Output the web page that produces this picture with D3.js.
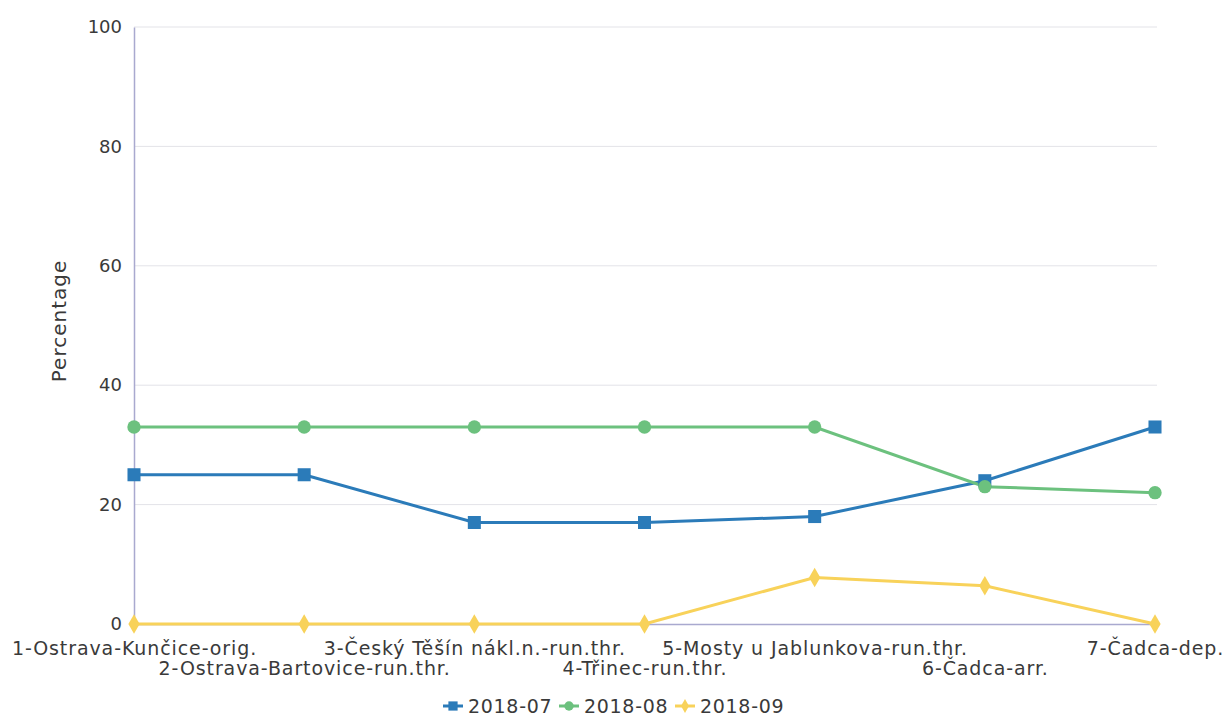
<!DOCTYPE html>
<html><head><meta charset="utf-8">
<script src="https://cdn.jsdelivr.net/npm/d3@7"></script>
<style>body{margin:0;background:#fff}svg{font-family:"DejaVu Sans",sans-serif}</style>
</head><body><svg id="c" width="1223" height="715"></svg>
<script>
const categories = ["1-Ostrava-Kunčice-orig.","2-Ostrava-Bartovice-run.thr.","3-Český Těšín nákl.n.-run.thr.","4-Třinec-run.thr.","5-Mosty u Jablunkova-run.thr.","6-Čadca-arr.","7-Čadca-dep."];
const seriesNames = ["2018-07","2018-08","2018-09"];
const s201807 = [25,25,17,17,18,24,33];
const s201808 = [33,33,33,33,33,23,22];
const s201809 = [0,0,0,0,7.8,6.4,0];
const yTicks = [0,20,40,60,80,100];
const colors = ["#2b7bb9","#6cc17e","#f8d25a"];
const symbols = [d3.symbolSquare, d3.symbolCircle, d3.symbolDiamond];
const symSizes = [170, 140, 110];
const series = [s201807,s201808,s201809];

const svg = d3.select("#c");
const L=134, R=1155, T=27, B=624;
const x = d3.scalePoint().domain(categories).range([L,R]);
const y = d3.scaleLinear().domain([0,100]).range([B,T]);

// grid
svg.append("g").selectAll("line").data(yTicks.filter(d=>d>0)).join("line")
 .attr("x1",L).attr("x2",R+2).attr("y1",d=>y(d)).attr("y2",d=>y(d))
 .attr("stroke","#e3e3e8").attr("stroke-width",1);

// y axis
const ya = svg.append("g").attr("transform",`translate(${L},0)`).call(d3.axisLeft(y).tickValues(yTicks).tickSize(0).tickPadding(12));
ya.select(".domain").attr("stroke","#a9a9cf").attr("stroke-width",1.5);
ya.selectAll("text").attr("font-size",18).attr("fill","#3a3a3a").attr("font-family","DejaVu Sans");

// x axis
const xa = svg.append("g").attr("transform",`translate(0,${B})`).call(d3.axisBottom(x).tickSize(0));
xa.select(".domain").attr("stroke","#a9a9cf").attr("stroke-width",1.5);
xa.selectAll("text").attr("font-size",19).attr("letter-spacing","0.9px").attr("fill","#3a3a3a").attr("font-family","DejaVu Sans")
 .attr("y",(d,i)=> i%2===0 ? 31 : 51).attr("dy",null);

// y title
svg.append("text").attr("transform",`translate(66,${321}) rotate(-90)`).attr("text-anchor","middle")
 .attr("font-size",20).attr("letter-spacing","1px").attr("fill","#3a3a3a").text("Percentage");

// lines
const line = d3.line().x((d,i)=>x(categories[i])).y(d=>y(d));
series.forEach((s,k)=>{
  svg.append("path").datum(s).attr("d",line).attr("fill","none").attr("stroke",colors[k]).attr("stroke-width",3);
});
series.forEach((s,k)=>{
  svg.append("g").selectAll("path").data(s).join("path")
   .attr("transform",(d,i)=>`translate(${x(categories[i])},${y(d)})`)
   .attr("d",d3.symbol().type(symbols[k]).size(symSizes[k])).attr("fill",colors[k]);
});

// legend
const lx=[443,559,675];
seriesNames.forEach((n,k)=>{
  const g = svg.append("g").attr("transform",`translate(${lx[k]},706)`);
  g.append("line").attr("x1",0).attr("x2",20).attr("stroke",colors[k]).attr("stroke-width",3);
  g.append("path").attr("transform","translate(10,0)").attr("d",d3.symbol().type(symbols[k]).size(symSizes[k]*0.5)).attr("fill",colors[k]);
  g.append("text").attr("x",25).attr("y",7).attr("font-size",19).attr("letter-spacing","0.7px").attr("fill","#3a3a3a").text(n);
});
</script></body></html>
